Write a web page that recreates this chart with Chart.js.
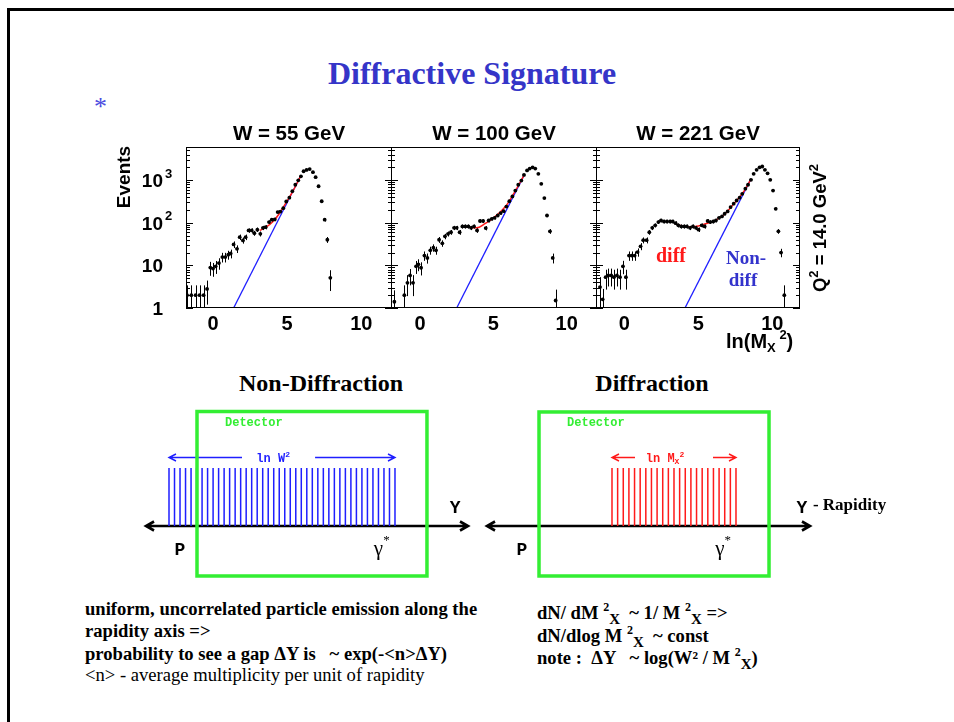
<!DOCTYPE html>
<html><head><meta charset="utf-8">
<script src="https://cdn.jsdelivr.net/npm/chart.js@4.4.0/dist/chart.umd.min.js"></script>
<style>
html,body{margin:0;padding:0;background:#fff;}
#slide{position:relative;width:954px;height:722px;overflow:hidden;background:#fff;}
.frame{position:absolute;left:7px;top:8px;width:1000px;height:800px;border-left:3px solid #000;border-top:3px solid #000;}
canvas{position:absolute;}
.t{position:absolute;white-space:pre;line-height:1;font-family:"Liberation Serif","Times New Roman",Times,serif;}
.b{font-weight:bold;}
.sp{font-size:12px;position:relative;top:-8px;}
.sb{font-size:15px;position:relative;top:5px;}
</style></head>
<body>
<div id="slide">
  <div class="frame"></div>
  <div class="t b" style="left:472px;top:57.2px;font-size:32px;color:#3535c8;transform:translateX(-50%)">Diffractive Signature</div>
  <div class="t" style="left:94px;top:94px;font-size:26px;color:#4a4ae0">*</div>
  <canvas id="p1" width="356" height="241" style="left:96px;top:117px"></canvas>
  <canvas id="p2" width="356" height="241" style="left:301px;top:117px"></canvas>
  <canvas id="p3" width="354" height="241" style="left:506px;top:117px"></canvas>
  <div class="t b" style="left:321px;top:370.9px;font-size:24px;transform:translateX(-50%)">Non-Diffraction</div>
  <div class="t b" style="left:652px;top:370.9px;font-size:24px;transform:translateX(-50%)">Diffraction</div>
  <canvas id="d1" width="340" height="200" style="left:140px;top:395px"></canvas>
  <canvas id="d2" width="420" height="200" style="left:480px;top:395px"></canvas>
  <div class="t b" style="left:85px;top:600.4px;font-size:18.6px">uniform, uncorrelated particle emission along the</div>
  <div class="t b" style="left:85px;top:622.4px;font-size:18.6px">rapidity axis =&gt;</div>
  <div class="t b" style="left:85px;top:645.4px;font-size:18.6px">probability to see a gap ΔY is   ~ exp(-&lt;n&gt;ΔY)</div>
  <div class="t" style="left:85px;top:666.4px;font-size:18.6px">&lt;n&gt; - average multiplicity per unit of rapidity</div>
  <div class="t b" style="left:537px;top:604.4px;font-size:18.6px">dN/ dM <span class="sp">2</span><span class="sb">X</span>  ~ 1/ M <span class="sp">2</span><span class="sb">X</span> =&gt;</div>
  <div class="t b" style="left:537px;top:627.4px;font-size:18.6px">dN/dlog M <span class="sp">2</span><span class="sb">X</span>  ~ const</div>
  <div class="t b" style="left:537px;top:649.4px;font-size:18.6px">note :  ΔY   ~ log(W² / M <span class="sp">2</span><span class="sb">X</span>)</div>
</div>
<script>
const SANS='"Liberation Sans", Arial, Helvetica, sans-serif';
const SERIF='"Liberation Serif", "Times New Roman", Times, serif';
const MONO='"Liberation Mono", "Courier New", Courier, monospace';

// ---------------- data ----------------
const panelTitles = ['W = 55 GeV', 'W = 100 GeV', 'W = 221 GeV'];
const xTickValues = [0, 5, 10];
const yTickValues = [1, 10, 100, 1000];
const yTickBase = ['1', '10', '10', '10'];
const yTickExp = ['', '', '2', '3'];

// W = 55 GeV : ln(Mx^2), events, error
const w55X = [-1.75,-1.46,-1.17,-0.90,-0.63,-0.40,-0.18,0.00,0.18,0.40,0.63,0.83,1.03,1.19,1.39,1.62,1.80,2.02,2.20,2.40,2.61,2.79,2.99,3.19,3.37,3.55,3.78,3.96,4.16,4.36,4.54,4.74,4.94,5.15,5.35,5.55,5.75,5.93,6.11,6.31,6.52,6.74,6.92,7.12,7.33,7.53,7.71,7.91];
const w55Y = [2,2,2,2,2,2.8,8.9,8.4,9.5,11.3,15.7,15.7,17.8,19,31,24.5,46,38.6,46,66,66,57,69,55,76,79,104,118,120,178,183,220,316,388,550,780,990,1230,1620,1740,1820,1540,1175,720,320,118,40,5.1];
const w55Err = [1.4,1.4,1.4,1.4,1.4,1.6,3.2,3,3.2,3.4,4,4,4.2,4.4,5.5,5,6.8,6.2,6.8,8,8,7.5,8.3,7.4,8.7,8.9,10,11,11,13,13.5,15,18,20,23,28,31,35,40,42,43,39,34,27,18,11,6.3,2.6];
const w55FitX = [3.15,3.6,4.05,4.5,4.94,5.4,5.9];
const w55FitY = [66,80,107,170,302,560,1230];
const w55NdX = [1.39,5.9];
const w55NdY = [1,1230];

// W = 100 GeV
const w100X = [-1.75,-1.07,-0.86,-0.68,-0.48,-0.27,-0.11,0.07,0.30,0.50,0.70,0.91,1.09,1.30,1.52,1.70,1.91,2.11,2.32,2.50,2.70,2.89,3.09,3.30,3.48,3.68,3.89,4.09,4.30,4.48,4.68,4.89,5.09,5.30,5.50,5.70,5.89,6.09,6.30,6.50,6.70,6.91,7.09,7.30,7.48,7.68,7.86,8.07,8.27,8.48,8.66,8.86,9.05,9.25];
const w100Y = [1.4,2,3.9,5.8,3.9,9.5,10.6,8.8,17,15,22.6,26,22.6,40,33,48,55,60,76,76,60,82,82,82,76,82,66,110,110,75,113,124,131,148,169,187,240,321,415,570,780,980,1330,1690,1870,2000,1870,1410,820,380,148,63,15,1.5];
const w100Err = [1.2,1.4,2,2.4,2,3.2,3.3,3,4.2,4,4.8,5.1,4.8,6.3,5.7,7,7.4,7.7,8.7,8.7,7.7,9,9,9,8.7,9,8.1,10.5,10.5,8.7,10.6,11,11.5,12,13,13.7,15.5,18,20,24,28,31,36,41,43,45,43,37,29,19.5,12,8,3.9,1.2];
const w100FitX = [3.07,3.5,3.86,4.43,4.9,5.34,5.7,6.0,6.5,7.11];
const w100FitY = [82,77,76,95,122,162,215,290,560,1330];
const w100NdX = [2.5,7.11];
const w100NdY = [1,1330];

// W = 221 GeV
const w221X = [-1.64,-1.46,-1.26,-1.08,-0.88,-0.70,-0.50,-0.29,-0.09,0.11,0.32,0.50,0.70,0.90,1.10,1.28,1.51,1.69,1.89,2.09,2.30,2.48,2.68,2.88,3.09,3.27,3.47,3.65,3.85,4.05,4.23,4.44,4.64,4.84,5.02,5.23,5.43,5.63,5.81,6.01,6.19,6.40,6.60,6.78,6.98,7.18,7.39,7.59,7.79,7.97,8.18,8.36,8.56,8.74,8.94,9.14,9.32,9.50,9.68,9.86,10.05,10.23,10.41,10.59,10.81];
const w221Y = [3.1,1.6,5.3,5.8,5.8,5.3,5.8,5.3,9.5,5.3,17,17,17,20.5,28,39,39,60,76,87,104,113,107,107,107,107,98,87,82,82,82,76,82,76,69,87,82,110,104,107,113,131,141,163,185,233,280,333,388,477,630,780,1020,1410,1750,2000,2090,1750,1450,1020,570,213,63,20,2];
const w221Err = [2.2,1.2,2.6,2.6,2.6,2.6,2.6,2.6,3.3,2.6,4.2,4.2,4.2,4.5,5.3,6.2,6.2,7.7,8.7,9.3,10,10.6,10.3,10.3,10.3,10.3,9.9,9.3,9,9,9,8.7,9,8.7,8.3,9.3,9,10.5,10.2,10.3,10.6,11.4,11.9,12.8,13.6,15.3,16.7,18.2,19.7,21.8,25,28,32,37.5,42,45,46,42,38,32,24,14.6,7.9,4.5,1.4];
const w221FitX = [3.42,4.0,4.44,5.0,5.5,6.0,6.69,7.2,7.59,8.1,8.56];
const w221FitY = [95,83,80,84,95,108,150,230,333,560,1070];
const w221NdX = [4.1,8.56];
const w221NdY = [1,1070];

// schematic particle emission along rapidity (one spike per particle)
const nonDiffParticles = [0,1,2,3,4,5,6,7,8,9,10,11,12,13,14,15,16,17,18,19,20,21,22,23,24,25,26,27,28,29,30,31,32,33,34,35,36,37,38,39,40,41];
const diffParticles = [0,1,2,3,4,5,6,7,8,9,10,11,12,13,14,15,16,17,18,19,20,21,22];

// ---------------- helpers ----------------
function drawRich(ctx, parts, x, y, align) {
  let w = 0;
  parts.forEach(p => { ctx.font = p.font; p.w = ctx.measureText(p.t).width; w += p.w; });
  let cx = align === 'center' ? x - w / 2 : (align === 'right' ? x - w : x);
  ctx.textAlign = 'left';
  parts.forEach(p => { ctx.font = p.font; ctx.fillText(p.t, cx, y + (p.dy || 0)); cx += p.w; });
}
function pts(xs, ys) { return xs.map((x, i) => ({x: x, y: ys[i]})); }

const RED = '#ff1a1a', BLUE = '#1f1fff', GREEN = '#33ee33', NAVY = '#3333cc';

function makePanelPlugin(c) {
  return {
    id: 'panelDeco',
    afterDatasetsDraw(chart) {
      const ctx = chart.ctx, a = chart.chartArea, xs = chart.scales.x, ys = chart.scales.y;
      ctx.save();
      // error bars
      ctx.save();
      ctx.beginPath(); ctx.rect(a.left, a.top, a.right - a.left, a.bottom - a.top); ctx.clip();
      ctx.strokeStyle = '#000'; ctx.lineWidth = 1;
      ctx.beginPath();
      c.x.forEach((xv, i) => {
        const yv = c.y[i], e = c.e[i];
        const px = Math.round(xs.getPixelForValue(xv)) + 0.5;
        const top = ys.getPixelForValue(yv + e);
        const bot = (yv - e) > 0 ? ys.getPixelForValue(yv - e) : a.bottom + 2;
        const py = ys.getPixelForValue(yv);
        ctx.moveTo(px, top); ctx.lineTo(px, bot);
        ctx.moveTo(xs.getPixelForValue(xv - 0.09), py); ctx.lineTo(xs.getPixelForValue(xv + 0.09), py);
      });
      ctx.stroke();
      ctx.restore();
      // frame
      ctx.strokeStyle = '#000'; ctx.lineWidth = 1;
      ctx.strokeRect(Math.round(a.left) + 0.5, Math.round(a.top) + 0.5, Math.round(a.right - a.left) - 1, Math.round(a.bottom - a.top) - 1);
      // y ticks (inward, both sides)
      ctx.beginPath();
      for (let d = 1; d <= ys.max; d *= 10) {
        for (let m = 1; m <= 9; m++) {
          const v = d * m; if (v > ys.max) break;
          const py = Math.round(ys.getPixelForValue(v)) + 0.5;
          const L = m === 1 ? 7 : 4;
          ctx.moveTo(a.left, py); ctx.lineTo(a.left + L, py);
          ctx.moveTo(a.right, py); ctx.lineTo(a.right - L, py);
        }
      }
      ctx.stroke();
      ctx.fillStyle = '#000';
      // title
      ctx.font = 'bold 20.5px ' + SANS; ctx.textAlign = 'center'; ctx.textBaseline = 'alphabetic';
      ctx.fillText(c.title, (a.left + a.right) / 2, a.top - 7);
      // x tick labels
      ctx.font = 'bold 20px ' + SANS;
      xTickValues.forEach(v => ctx.fillText(String(v), xs.getPixelForValue(v), a.bottom + 22));
      if (c.yLabels) {
        yTickValues.forEach((v, i) => {
          const py = ys.getPixelForValue(v);
          ctx.font = 'bold 19px ' + SANS; ctx.textAlign = 'right';
          ctx.fillText(yTickBase[i], a.left - 23, py + 7);
          if (yTickExp[i]) { ctx.font = 'bold 13px ' + SANS; ctx.textAlign = 'left'; ctx.fillText(yTickExp[i], a.left - 21, py - 2.5); }
        });
        ctx.save();
        ctx.translate(a.left - 61, a.top + 30); ctx.rotate(-Math.PI / 2);
        ctx.font = 'bold 19px ' + SANS; ctx.textAlign = 'center'; ctx.textBaseline = 'middle';
        ctx.fillText('Events', 0, 0);
        ctx.restore();
      }
      if (c.annot) {
        ctx.save();
        ctx.translate(a.right + 21, a.top + 81); ctx.rotate(-Math.PI / 2);
        ctx.textBaseline = 'middle';
        drawRich(ctx, [
          {t: 'Q', font: 'bold 18.5px ' + SANS},
          {t: '2', font: 'bold 13px ' + SANS, dy: -7},
          {t: ' = 14.0 GeV', font: 'bold 18.5px ' + SANS},
          {t: '2', font: 'bold 13px ' + SANS, dy: -7}
        ], 0, 0, 'center');
        ctx.restore();
        ctx.textBaseline = 'alphabetic';
        drawRich(ctx, [
          {t: 'ln(M', font: 'bold 20px ' + SANS},
          {t: 'X', font: 'bold 13px ' + SANS, dy: 4},
          {t: ' ', font: 'bold 13px ' + SANS},
          {t: '2', font: 'bold 13px ' + SANS, dy: -9},
          {t: ')', font: 'bold 20px ' + SANS}
        ], a.right - 74, a.bottom + 40, 'left');
        ctx.textAlign = 'center';
        ctx.font = 'bold 20px ' + SERIF; ctx.fillStyle = RED;
        ctx.fillText('diff', a.left + 75, a.top + 115);
        ctx.font = 'bold 19px ' + SERIF; ctx.fillStyle = NAVY;
        ctx.fillText('Non-', a.left + 150, a.top + 117);
        ctx.fillText('diff', a.left + 147, a.top + 139);
      }
      ctx.restore();
    }
  };
}

function panelChart(id, c) {
  new Chart(document.getElementById(id), {
    type: 'scatter',
    data: {datasets: [
      {label: 'data', data: pts(c.x, c.y), pointRadius: 1.9, pointBackgroundColor: '#000', pointBorderWidth: 0, showLine: false, order: 0},
      {label: 'fit', type: 'line', data: pts(c.fitX, c.fitY), borderColor: RED, borderWidth: 1.5, pointRadius: 0, cubicInterpolationMode: 'monotone', fill: false, order: 1},
      {label: 'non-diffractive', type: 'line', data: pts(c.ndX, c.ndY), borderColor: BLUE, borderWidth: 1.3, pointRadius: 0, fill: false, order: 2}
    ]},
    options: {
      responsive: false, animation: false, events: [],
      layout: {padding: {left: 90, right: 60, top: 30, bottom: 50}},
      plugins: {legend: {display: false}, tooltip: {enabled: false}},
      scales: {
        x: {type: 'linear', min: c.xMin, max: c.xMax, display: false},
        y: {type: 'logarithmic', min: 1, max: 6000, display: false}
      }
    },
    plugins: [makePanelPlugin(c)]
  });
}

panelChart('p1', {title: panelTitles[0], x: w55X, y: w55Y, e: w55Err, fitX: w55FitX, fitY: w55FitY, ndX: w55NdX, ndY: w55NdY, xMin: -1.82, xMax: 12.07, yLabels: true});
panelChart('p2', {title: panelTitles[1], x: w100X, y: w100Y, e: w100Err, fitX: w100FitX, fitY: w100FitY, ndX: w100NdX, ndY: w100NdY, xMin: -1.98, xMax: 12.07});
panelChart('p3', {title: panelTitles[2], x: w221X, y: w221Y, e: w221Err, fitX: w221FitX, fitY: w221FitY, ndX: w221NdX, ndY: w221NdY, xMin: -1.91, xMax: 11.87, annot: true});

// ---------------- rapidity diagrams ----------------
function chevron(ctx, x, y, dir, len, half) {
  ctx.moveTo(x - dir * len, y - half); ctx.lineTo(x, y); ctx.lineTo(x - dir * len, y + half);
}
function makeDiagramPlugin(d) {
  return {
    id: 'diagramDeco',
    beforeDatasetsDraw(chart) {
      const ctx = chart.ctx, xs = chart.scales.x, ys = chart.scales.y;
      const X = u => xs.getPixelForValue(u), Y = v => ys.getPixelForValue(v);
      ctx.save();
      ctx.strokeStyle = '#000'; ctx.lineWidth = 2.6; ctx.lineJoin = 'miter';
      const ay = Y(0), x1 = X(d.axis[0]), x2 = X(d.axis[1]);
      ctx.beginPath(); ctx.moveTo(x1 + 1, ay); ctx.lineTo(x2 - 1, ay);
      chevron(ctx, x1, ay, -1, 8, 4.5); chevron(ctx, x2, ay, 1, 8, 4.5);
      ctx.stroke();
      ctx.restore();
    },
    afterDatasetsDraw(chart) {
      const ctx = chart.ctx, xs = chart.scales.x, ys = chart.scales.y;
      const X = u => xs.getPixelForValue(u), Y = v => ys.getPixelForValue(v);
      ctx.save();
      // span arrows
      const sy = Math.round(Y(d.spanV)) + 0.5;
      const s0 = X(Math.min(...d.spikes)), s1 = X(Math.max(...d.spikes));
      ctx.strokeStyle = d.color; ctx.lineWidth = 1.4;
      ctx.beginPath();
      ctx.moveTo(s0, sy); ctx.lineTo(X(d.gap[0]), sy); chevron(ctx, s0, sy, -1, 7, 3.5);
      ctx.moveTo(X(d.gap[1]), sy); ctx.lineTo(s1, sy); chevron(ctx, s1, sy, 1, 7, 3.5);
      ctx.stroke();
      ctx.fillStyle = d.color; ctx.textBaseline = 'alphabetic';
      drawRich(ctx, d.spanLabel, X(d.labelU), sy + 4, 'center');
      // detector box
      ctx.strokeStyle = GREEN; ctx.lineWidth = 3.5;
      const bx = X(d.box[0]), bw = X(d.box[1]) - bx, by = Y(d.box[2]), bh = Y(d.box[3]) - by;
      ctx.strokeRect(bx, by, bw, bh);
      ctx.fillStyle = GREEN; ctx.font = 'bold 12px ' + MONO; ctx.textAlign = 'left'; ctx.textBaseline = 'middle';
      ctx.fillText('Detector', X(d.det[0]), Y(d.det[1]));
      // labels
      ctx.fillStyle = '#000';
      ctx.font = 'bold 18px ' + MONO; ctx.textAlign = 'center';
      ctx.fillText('Y', X(d.yLab[0]), Y(d.yLab[1]));
      ctx.fillText('P', X(d.pLab[0]), Y(d.pLab[1]));
      drawRich(ctx, [{t: 'γ', font: '21px ' + SERIF}, {t: '*', font: '13px ' + SERIF, dy: -9}], X(d.gLab[0]), Y(d.gLab[1]), 'center');
      if (d.rapidity) {
        ctx.font = 'bold 17px ' + SERIF; ctx.textAlign = 'left';
        ctx.fillText('- Rapidity', X(d.rapidity[0]), Y(d.rapidity[1]));
      }
      ctx.restore();
    }
  };
}
function diagramChart(id, d) {
  const cv = document.getElementById(id);
  const data = [];
  d.spikes.forEach(s => { data.push({x: s, y: 0}, {x: s, y: 1}, {x: s, y: null}); });
  new Chart(cv, {
    type: 'line',
    data: {datasets: [{label: 'particles', data: data, borderColor: d.color, borderWidth: 1.5, pointRadius: 0, spanGaps: false, tension: 0, fill: false}]},
    options: {
      responsive: false, animation: false, events: [],
      layout: {padding: 0},
      plugins: {legend: {display: false}, tooltip: {enabled: false}},
      scales: {
        x: {type: 'linear', display: false, min: -d.u0 / d.ku, max: (cv.width - d.u0) / d.ku},
        y: {type: 'linear', display: false, min: -(cv.height - d.v0) / d.kv, max: d.v0 / d.kv}
      }
    },
    plugins: [makeDiagramPlugin(d)]
  });
}

diagramChart('d1', {
  spikes: nonDiffParticles, color: BLUE, u0: 29, ku: 5.512, v0: 131, kv: 58,
  axis: [-4.17, 54.25], box: [5.08, 46.8, 1.974, -0.862], det: [10.16, 1.776],
  spanV: 1.19, gap: [13.24, 26.5], labelU: 18.9,
  spanLabel: [{t: 'ln W', font: 'bold 12px ' + MONO}, {t: '2', font: 'bold 8px ' + MONO, dy: -5}],
  yLab: [51.9, 0.31], pLab: [2.0, -0.43], gLab: [38.6, -0.41]
});
diagramChart('d2', {
  spikes: diffParticles, color: RED, u0: 132, ku: 5.636, v0: 131, kv: 58,
  axis: [-22.18, 35.13], box: [-12.95, 27.86, 1.966, -0.862], det: [-7.98, 1.776],
  spanV: 1.19, gap: [4.08, 17.92], labelU: 9.4,
  spanLabel: [{t: 'ln M', font: 'bold 12px ' + MONO}, {t: 'X', font: 'bold 8px ' + MONO, dy: 2}, {t: '2', font: 'bold 8px ' + MONO, dy: -5}],
  yLab: [33.7, 0.31], pLab: [-15.97, -0.43], gLab: [19.7, -0.41], rapidity: [35.65, 0.36]
});
</script>
</body></html>
